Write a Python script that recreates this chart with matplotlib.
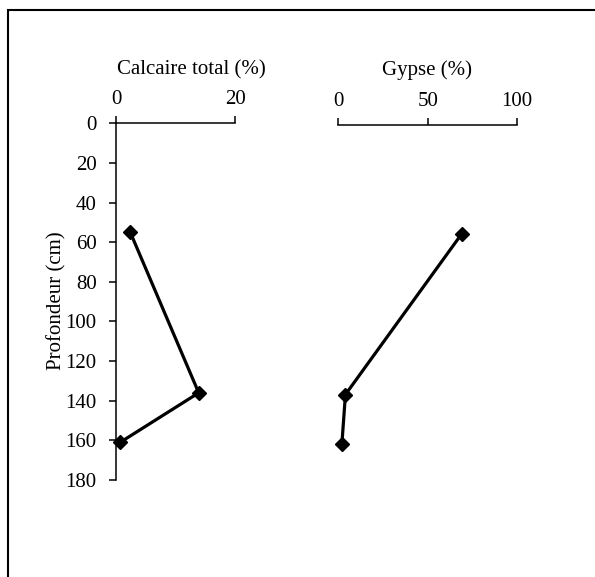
import matplotlib.pyplot as plt
from matplotlib.patches import Rectangle

# profil de sol : profondeur (cm) et teneurs (%)
profondeur = [55, 136, 161]
calcaire = [2.4, 13.9, 0.7]
gypse = [69, 4, 2]

depth_ticks = [0, 20, 40, 60, 80, 100, 120, 140, 160, 180]
calcaire_ticks = [0, 20]
gypse_ticks = [0, 50, 100]

plt.rcParams['font.family'] = ['Liberation Serif', 'DejaVu Serif']
plt.rcParams['font.size'] = 15

W, H = 595, 577
fig = plt.figure(figsize=(W / 100, H / 100), dpi=100)


def fx(px):
    return px / W


def fy(py):
    return 1 - py / H


def style_axes(ax):
    ax.xaxis.tick_top()
    ax.spines['bottom'].set_visible(False)
    ax.spines['right'].set_visible(False)
    ax.spines['top'].set_linewidth(1.1)
    ax.spines['left'].set_linewidth(1.1)
    ax.tick_params(axis='both', direction='out', length=5, width=1.1)
    ax.tick_params(axis='y', pad=9)
    ax.tick_params(axis='x', pad=5)
    ax.patch.set_alpha(0)


line_kw = dict(color='black', lw=2.3, marker='D', ms=7.5, mfc='black', mec='black')

# calcaire total
ax1 = fig.add_axes([fx(116), fy(480), fx(235) - fx(116), fy(123.3) - fy(480)])
ax1.plot(calcaire, profondeur, clip_on=False, **line_kw)
ax1.set_xlim(0, 20)
ax1.set_ylim(180, 0)
ax1.set_xticks(calcaire_ticks)
ax1.set_yticks(depth_ticks)
style_axes(ax1)

# gypse
ax2 = fig.add_axes([fx(338.3), fy(481.7), fx(517) - fx(338.3), fy(125) - fy(481.7)])
ax2.plot(gypse, profondeur, clip_on=False, **line_kw)
ax2.set_xlim(0, 100)
ax2.set_ylim(180, 0)
ax2.set_xticks(gypse_ticks)
style_axes(ax2)
ax2.spines['left'].set_visible(False)
ax2.set_yticks([])

fig.text(fx(191), fy(70), 'Calcaire total (%)', ha='center', va='center')
fig.text(fx(427), fy(70), 'Gypse (%)', ha='center', va='center')
fig.text(fx(57), fy(301), 'Profondeur (cm)', ha='center', va='center', rotation=90)

# cadre autour du graphique
fig.add_artist(Rectangle((fx(8), -0.1), 1.2, fy(10) + 0.1, fill=False,
                         lw=1.5, ec='black', transform=fig.transFigure))

fig.savefig('out.png', dpi=100)
